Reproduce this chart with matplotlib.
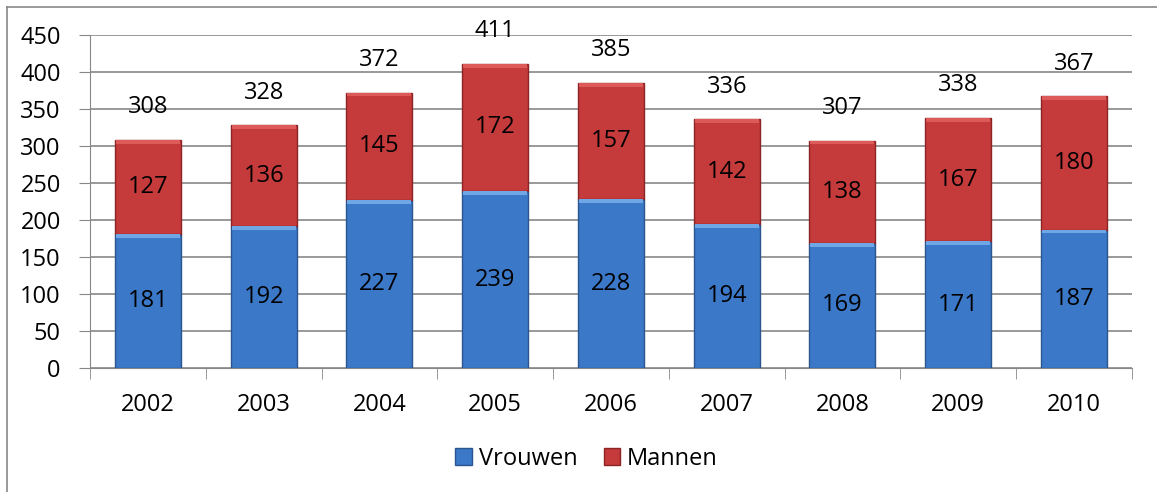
import numpy as np
import matplotlib.pyplot as plt
from matplotlib.lines import Line2D

years = ['2002', '2003', '2004', '2005', '2006', '2007', '2008', '2009', '2010']
vrouwen = [181, 192, 227, 239, 228, 194, 169, 171, 187]
mannen = [127, 136, 145, 172, 157, 142, 138, 167, 180]
totals = [308, 328, 372, 411, 385, 336, 307, 338, 367]

plt.rcParams['font.family'] = ['Open Sans', 'DejaVu Sans']
fs = 17

fig = plt.figure(figsize=(11.57, 4.92), dpi=100)
ax = fig.add_axes([0.0778, 0.252, 0.9005, 0.677])

x = np.arange(len(years))
w = 0.57
top_v = np.array(vrouwen)
top_m = np.array(vrouwen) + np.array(mannen)
ax.bar(x, vrouwen, w, color='#3b78c8', edgecolor='#2a558f', linewidth=1, label='Vrouwen', zorder=3)
ax.bar(x, mannen, w, bottom=vrouwen, color='#c53a3a', edgecolor='#8c2525', linewidth=1, label='Mannen', zorder=3)
# light bevel strip at the top of each segment
ax.bar(x, 5, w * 0.97, bottom=top_v - 5, color='#6ea6e6', linewidth=0, zorder=3.5)
ax.bar(x, 5, w * 0.97, bottom=top_m - 5, color='#dc5a58', linewidth=0, zorder=3.5)

for i in range(len(years)):
    ax.text(x[i], vrouwen[i] / 2, str(vrouwen[i]), ha='center', va='center', fontsize=fs, zorder=4)
    ax.text(x[i], vrouwen[i] + mannen[i] / 2, str(mannen[i]), ha='center', va='center', fontsize=fs, zorder=4)
    ax.text(x[i], vrouwen[i] + mannen[i] + 44, str(totals[i]), ha='center', va='center', fontsize=fs, zorder=4)

ax.set_xlim(-0.5, len(years) - 0.5)
ax.set_ylim(0, 450)
ax.set_yticks(range(0, 451, 50))
ax.set_xticks(x)
ax.set_xticklabels(years)
ax.set_xticks(np.arange(-0.5, len(years), 1), minor=True)
ax.tick_params(axis='x', which='major', length=0, pad=18, labelsize=fs)
ax.tick_params(axis='x', which='minor', length=8, color='#888888', direction='out')
ax.tick_params(axis='y', length=8, color='#888888', labelsize=fs, pad=13)
ax.yaxis.grid(True, color='#888888', linewidth=1.2, zorder=0)
ax.set_axisbelow(True)
for s in ['top', 'right']:
    ax.spines[s].set_visible(False)
ax.spines['left'].set_color('#888888')
ax.spines['bottom'].set_color('#888888')

handles, labels = ax.get_legend_handles_labels()
fig.legend(handles[:2], labels[:2], loc='center', bbox_to_anchor=(0.507, 0.068), ncol=2, frameon=False,
           fontsize=fs, handlelength=0.7, handleheight=0.7, handletextpad=0.3, columnspacing=1.1)

# outer chart frame (only top and left visible in the crop)
fig.add_artist(Line2D([7 / 1157, 7 / 1157], [0, 1 - 7 / 492], color='#888888', linewidth=1.2))
fig.add_artist(Line2D([7 / 1157, 1], [1 - 7 / 492, 1 - 7 / 492], color='#888888', linewidth=1.2))

fig.savefig('out.png', dpi=100)
